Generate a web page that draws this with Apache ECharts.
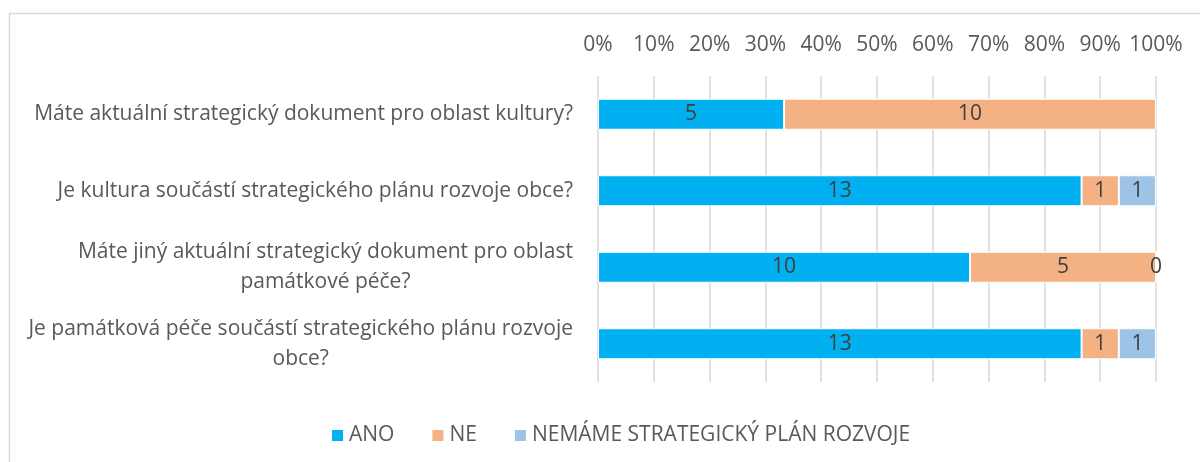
<!DOCTYPE html>
<html>
<head>
<meta charset="utf-8">
<script src="https://cdn.jsdelivr.net/npm/echarts@6/dist/echarts.min.js"></script>
<style>
html, body { margin: 0; padding: 0; background: #fff; }
#chart { width: 1200px; height: 462px; }
</style>
</head>
<body>
<div id="chart"></div>
<script>
// questions (line breaks as in the original chart)
var categories = [
  'Máte aktuální strategický dokument pro oblast kultury?',
  'Je kultura součástí strategického plánu rozvoje obce?',
  'Máte jiný aktuální strategický dokument pro oblast\npamátkové péče?',
  'Je památková péče součástí strategického plánu rozvoje\nobce?'
]
var seriesNames = ['ANO', 'NE', 'NEMÁME STRATEGICKÝ PLÁN ROZVOJE']
var ano = [5, 13, 10, 13]
var ne = [10, 1, 5, 1]
var nemame = [null, 1, 0, 1]
var colors = ['#00B0F0', '#F4B183', '#9DC3E6']

var raw = [ano, ne, nemame]
var totals = categories.map(function (c, i) {
  return raw.reduce(function (s, arr) { return s + (arr[i] || 0) }, 0)
})

var fontFamily = '"Open Sans", sans-serif'
var fs = 21

var series = raw.map(function (arr, k) {
  return {
    name: seriesNames[k],
    type: 'bar',
    stack: 'total',
    barWidth: 31,
    itemStyle: { color: colors[k], borderColor: '#fff', borderWidth: 1 },
    label: {
      show: true,
      position: 'inside',
      color: '#404040',
      fontSize: fs,
      fontFamily: fontFamily,
      formatter: function (p) { return raw[k][p.dataIndex] }
    },
    data: arr.map(function (v, i) {
      return v === null ? null : v / totals[i] * 100
    })
  }
})

var chart = echarts.init(document.getElementById('chart'))
chart.setOption({
  animation: false,
  color: colors,
  graphic: [{
    type: 'rect',
    silent: true,
    shape: { x: 9.5, y: 13.5, width: 1400, height: 600 },
    style: { fill: 'none', stroke: '#d9d9d9', lineWidth: 1.5 }
  }],
  grid: { left: 598, right: 44, top: 76, bottom: 80 },
  xAxis: {
    type: 'value',
    position: 'top',
    min: 0,
    max: 100,
    interval: 10,
    axisLine: { show: false },
    axisTick: { show: false },
    splitLine: { lineStyle: { color: '#d9d9d9', width: 1.5 } },
    axisLabel: {
      margin: 20,
      color: '#595959',
      fontSize: fs,
      fontFamily: fontFamily,
      formatter: '{value}%'
    }
  },
  yAxis: {
    type: 'category',
    inverse: true,
    data: categories,
    axisLine: { show: false },
    axisTick: { show: false },
    axisLabel: {
      margin: 25,
      color: '#595959',
      fontSize: fs,
      fontFamily: fontFamily,
      lineHeight: 30,
      formatter: function (v) {
        return v.split('\n').map(function (l) { return '{c|' + l + '}' }).join('\n')
      },
      rich: {
        c: { align: 'center', color: '#595959', fontSize: fs, fontFamily: fontFamily, lineHeight: 30 }
      }
    }
  },
  legend: {
    bottom: 11,
    left: 325,
    itemWidth: 13,
    itemHeight: 13,
    itemGap: 36,
    icon: 'rect',
    textStyle: { color: '#595959', fontSize: fs, fontFamily: fontFamily },
    data: seriesNames
  },
  series: series
})
</script>
</body>
</html>
